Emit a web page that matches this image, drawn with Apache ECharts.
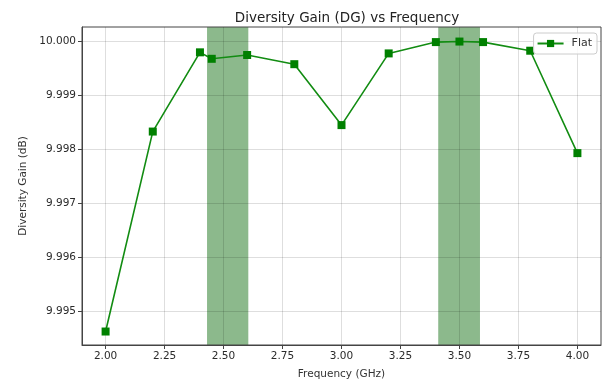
<!DOCTYPE html>
<html>
<head>
<meta charset="utf-8">
<script src="https://cdn.jsdelivr.net/npm/echarts@6/dist/echarts.min.js"></script>
<style>html,body{margin:0;padding:0;background:#fff}#c{width:602px;height:386px}</style>
</head>
<body>
<div id="c"></div>
<script>
const freqs = [2.0, 2.2, 2.4, 2.45, 2.6, 2.8, 3.0, 3.2, 3.4, 3.5, 3.6, 3.8, 4.0];
const flatDG = [9.99462, 9.99833, 9.99980, 9.99968, 9.99975, 9.99958, 9.99845, 9.99978, 9.99999, 10.00000, 9.99999, 9.99983, 9.99793];
const xTicks = [2.0, 2.25, 2.5, 2.75, 3.0, 3.25, 3.5, 3.75, 4.0];
const yTicks = [9.995, 9.996, 9.997, 9.998, 9.999, 10.0];
const bands = [[2.43, 2.605], [3.41, 3.587]];

const font = 'DejaVu Sans';
const chart = echarts.init(document.getElementById('c'), null, {renderer: 'canvas'});
chart.setOption({
  animation: false,
  backgroundColor: '#fff',
  title: {
    text: 'Diversity Gain (DG) vs Frequency',
    left: 342, top: 6, textAlign: 'center',
    textStyle: {fontFamily: font, fontSize: 13.5, fontWeight: 'normal', color: '#222'}
  },
  legend: {
    data: ['Flat'], right: 5, top: 33,
    orient: 'vertical',
    backgroundColor: 'rgba(255,255,255,0.85)',
    borderColor: '#cccccc', borderWidth: 1, borderRadius: 3,
    padding: [5, 5, 5, 3],
    itemWidth: 26, itemHeight: 9, itemGap: 4,
    textStyle: {fontFamily: font, fontSize: 11, color: '#333', padding: [0, 0, 0, 3]}
  },
  grid: {left: 82, right: 1, top: 27, bottom: 41, containLabel: false,
    show: true, borderColor: '#444', borderWidth: 1},
  xAxis: {
    type: 'value', min: 1.9, max: 4.1,
    name: 'Frequency (GHz)', nameLocation: 'middle', nameGap: 24,
    nameTextStyle: {fontFamily: font, fontSize: 10.5, color: '#333'},
    axisLine: {show: true, onZero: false, lineStyle: {color: '#444', width: 1}},
    axisTick: {show: true, length: 4, customValues: xTicks, lineStyle: {color: '#444'}},
    axisLabel: {customValues: xTicks, fontFamily: font, fontSize: 10.5, color: '#2a2a2a', margin: 6,
      formatter: v => v.toFixed(2)},
    splitLine: {show: true, lineStyle: {color: 'rgba(0,0,0,0.13)', width: 1}}
  },
  yAxis: {
    type: 'value', min: 9.99437, max: 10.00027,
    name: 'Diversity Gain (dB)', nameLocation: 'middle', nameGap: 53,
    nameTextStyle: {fontFamily: font, fontSize: 10.5, color: '#333'},
    axisLine: {show: true, lineStyle: {color: '#444', width: 1}},
    axisTick: {show: true, length: 4, customValues: yTicks, lineStyle: {color: '#444'}},
    axisLabel: {customValues: yTicks, fontFamily: font, fontSize: 10.5, color: '#2a2a2a', margin: 6,
      formatter: v => v.toFixed(3)},
    splitLine: {show: true, lineStyle: {color: 'rgba(0,0,0,0.13)', width: 1}}
  },
  series: [{
    name: 'bands', type: 'line', data: [], z: -1, silent: true,
    markArea: {
      silent: true, z: -1,
      itemStyle: {color: 'rgba(0,100,0,0.45)'},
      data: bands.map(b => [{xAxis: b[0]}, {xAxis: b[1]}])
    }
  }, {
    name: 'Flat', type: 'line',
    data: freqs.map((f, i) => [f, flatDG[i]]),
    symbol: 'rect', symbolSize: 8,
    lineStyle: {color: '#128c12', width: 1.6},
    itemStyle: {color: '#008000'}
  }]
});
</script>
</body>
</html>
